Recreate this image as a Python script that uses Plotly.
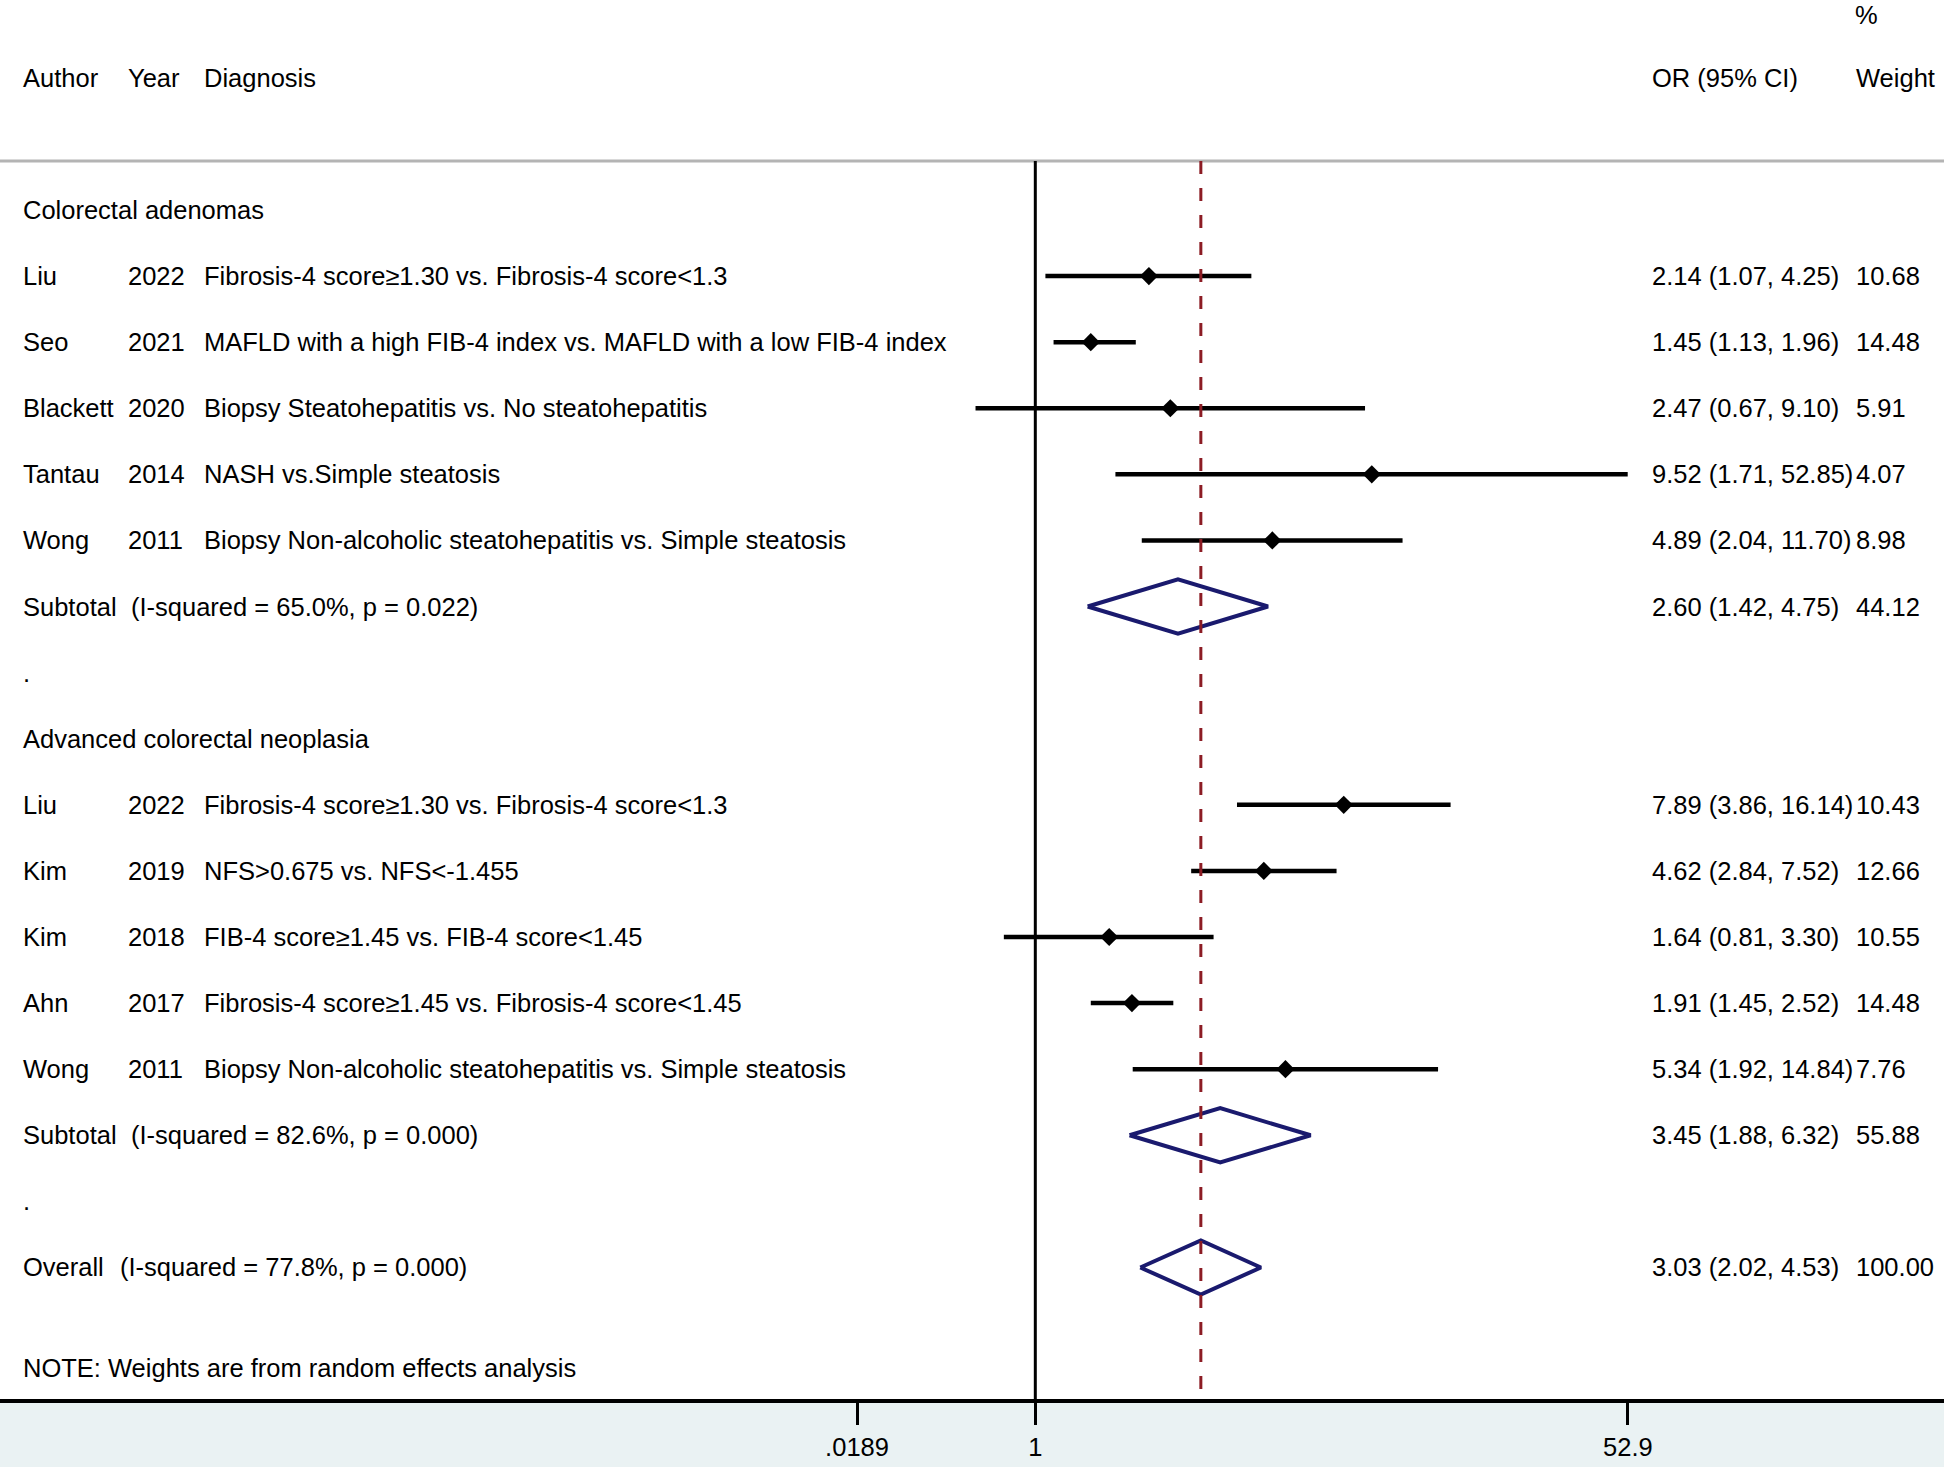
import math
import plotly.graph_objects as go

# ---------------- data ----------------
g1_title = "Colorectal adenomas"
g1_author = ["Liu", "Seo", "Blackett", "Tantau", "Wong"]
g1_year = [2022, 2021, 2020, 2014, 2011]
g1_diag = [
    "Fibrosis-4 score≥1.30 vs. Fibrosis-4 score<1.3",
    "MAFLD with a high FIB-4 index vs. MAFLD with a low FIB-4 index",
    "Biopsy Steatohepatitis vs. No steatohepatitis",
    "NASH vs.Simple steatosis",
    "Biopsy Non-alcoholic steatohepatitis vs. Simple steatosis",
]
g1_or = [2.14, 1.45, 2.47, 9.52, 4.89]
g1_lo = [1.07, 1.13, 0.67, 1.71, 2.04]
g1_hi = [4.25, 1.96, 9.10, 52.85, 11.70]
g1_w = [10.68, 14.48, 5.91, 4.07, 8.98]
g1_sub = [2.60, 1.42, 4.75, 44.12]
g1_het = "(I-squared = 65.0%, p = 0.022)"

g2_title = "Advanced colorectal neoplasia"
g2_author = ["Liu", "Kim", "Kim", "Ahn", "Wong"]
g2_year = [2022, 2019, 2018, 2017, 2011]
g2_diag = [
    "Fibrosis-4 score≥1.30 vs. Fibrosis-4 score<1.3",
    "NFS>0.675 vs. NFS<-1.455",
    "FIB-4 score≥1.45 vs. FIB-4 score<1.45",
    "Fibrosis-4 score≥1.45 vs. Fibrosis-4 score<1.45",
    "Biopsy Non-alcoholic steatohepatitis vs. Simple steatosis",
]
g2_or = [7.89, 4.62, 1.64, 1.91, 5.34]
g2_lo = [3.86, 2.84, 0.81, 1.45, 1.92]
g2_hi = [16.14, 7.52, 3.30, 2.52, 14.84]
g2_w = [10.43, 12.66, 10.55, 14.48, 7.76]
g2_sub = [3.45, 1.88, 6.32, 55.88]
g2_het = "(I-squared = 82.6%, p = 0.000)"

overall = [3.03, 2.02, 4.53, 100.00]
overall_het = "(I-squared = 77.8%, p = 0.000)"

tick_vals = [0.303, 1, 52.9]
tick_text = [".0189", "1", "52.9"]
note = "NOTE: Weights are from random effects analysis"

# ---------------- layout constants ----------------
W, H = 1944, 1467
FONT = "Liberation Sans, Arial, sans-serif"
FS = 25.5
X_AUTH, X_YEAR, X_DIAG, X_CI, X_WT = 21, 125.5, 202, 1649.5, 1853.5
X_SUBHET, X_OVHET = 128.5, 117.5
NAVY = "#1a1a6e"
RED = "#8c1c24"

rows1 = [2, 3, 4, 5, 6]
rows2 = [10, 11, 12, 13, 14]
sub1_row, sub2_row, ov_row = 7, 15, 17
half_h = 0.41

fig = go.Figure()
ann = []


def txt(xpx, row, s, anchor="left"):
    ann.append(dict(x=xpx / W, xref="paper", y=row, yref="y", text=s,
                    showarrow=False, xanchor=anchor, yanchor="middle",
                    font=dict(family=FONT, size=FS, color="black")))


# header
txt(X_AUTH, -1, "Author")
txt(X_YEAR, -1, "Year")
txt(X_DIAG, -1, "Diagnosis")
txt(X_CI, -1, "OR (95% CI)")
ann.append(dict(x=X_WT / W, xref="paper", y=1, yref="paper", text="%",
                showarrow=False, xanchor="left", yanchor="top", borderpad=0,
                font=dict(family=FONT, size=FS, color="black")))
txt(X_WT, -1, "Weight")


def ci_str(e, l, h):
    return f"{e:.2f} ({l:.2f}, {h:.2f})"


def study_block(title, title_row, rows, authors, years, diags, ors, los, his, ws):
    txt(X_AUTH, title_row, title)
    xs, ys = [], []
    for r, a, y, d, e, l, h, w in zip(rows, authors, years, diags, ors, los, his, ws):
        txt(X_AUTH, r, a)
        txt(X_YEAR, r, str(y))
        txt(X_DIAG, r, d)
        txt(X_CI, r, ci_str(e, l, h))
        txt(X_WT, r, f"{w:.2f}")
        xs += [l, h, None]
        ys += [r, r, None]
    fig.add_trace(go.Scatter(x=xs, y=ys, mode="lines",
                             line=dict(color="black", width=4.5),
                             hoverinfo="skip", showlegend=False))
    fig.add_trace(go.Scatter(x=ors, y=rows, mode="markers",
                             marker=dict(symbol="diamond", size=14, color="black"),
                             showlegend=False))


def pooled(label, lx, row, het, vals):
    e, l, h, w = vals
    txt(X_AUTH, row, label)
    txt(lx, row, het)
    txt(X_CI, row, ci_str(e, l, h))
    txt(X_WT, row, f"{w:.2f}")
    fig.add_trace(go.Scatter(x=[l, e, h, e, l], y=[row, row - half_h, row, row + half_h, row],
                             mode="lines", line=dict(color=NAVY, width=4),
                             hoverinfo="skip", showlegend=False))


study_block(g1_title, 1, rows1, g1_author, g1_year, g1_diag, g1_or, g1_lo, g1_hi, g1_w)
pooled("Subtotal", X_SUBHET, sub1_row, g1_het, g1_sub)
txt(X_AUTH, 8, ".")
study_block(g2_title, 9, rows2, g2_author, g2_year, g2_diag, g2_or, g2_lo, g2_hi, g2_w)
pooled("Subtotal", X_SUBHET, sub2_row, g2_het, g2_sub)
txt(X_AUTH, 16, ".")
pooled("Overall", X_OVHET, ov_row, overall_het, overall)
txt(X_AUTH, 18.52, note)

y_top_line = 0.26
y_bottom = 18.99

shapes = [
    dict(type="line", xref="paper", yref="y", x0=0, x1=1, y0=y_top_line, y1=y_top_line,
         line=dict(color="#b4b4b4", width=3)),
    dict(type="line", xref="x", yref="y", x0=1, x1=1, y0=y_top_line, y1=y_bottom,
         line=dict(color="black", width=3)),
    dict(type="line", xref="x", yref="y", x0=overall[0], x1=overall[0], y0=y_top_line, y1=y_bottom,
         line=dict(color=RED, width=3, dash="13px,14px")),
]

fig.update_layout(
    width=W, height=H,
    margin=dict(l=0, r=0, t=0, b=68, pad=0),
    paper_bgcolor="#eaf2f3",
    plot_bgcolor="white",
    showlegend=False,
    annotations=ann,
    shapes=shapes,
    xaxis=dict(type="log", range=[-3.0113, 2.643], showgrid=False, zeroline=False,
               tickvals=tick_vals, ticktext=tick_text, ticks="outside", ticklen=22,
               tickwidth=3, tickcolor="black", showline=True, linecolor="black", linewidth=4,
               tickfont=dict(family=FONT, size=FS, color="black"), fixedrange=True),
    yaxis=dict(range=[y_bottom, -2.177], showgrid=False, zeroline=False, showticklabels=False,
               showline=False, ticks="", fixedrange=True),
)

fig.write_html("out.html", config={"displayModeBar": False},
               post_script="document.body.style.margin='0';document.body.style.overflow='hidden';")
